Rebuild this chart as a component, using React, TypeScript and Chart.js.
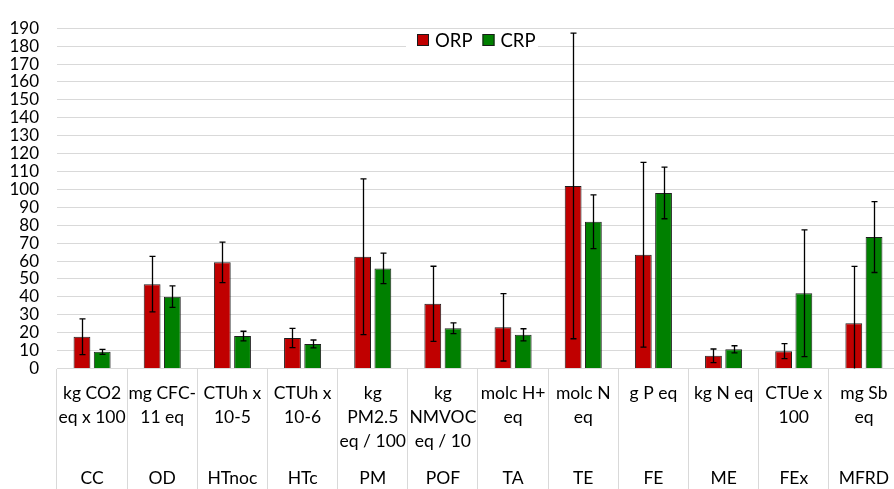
import React, { useEffect, useRef } from "react";
import { Chart, registerables } from "chart.js";

Chart.register(...registerables);

const categories = ["CC", "OD", "HTnoc", "HTc", "PM", "POF", "TA", "TE", "FE", "ME", "FEx", "MFRD"];
const unitLabels: string[][] = [
  ["kg CO2", "eq x 100"],
  ["mg CFC-", "11 eq"],
  ["CTUh x", "10-5"],
  ["CTUh x", "10-6"],
  ["kg", "PM2.5", "eq / 100"],
  ["kg", "NMVOC", "eq / 10"],
  ["molc H+", "eq"],
  ["molc N", "eq"],
  ["g P eq"],
  ["kg N eq"],
  ["CTUe x", "100"],
  ["mg Sb", "eq"],
];
const orpValues = [17.7, 47.1, 59.3, 17.0, 62.4, 36.1, 23.0, 101.9, 63.5, 7.1, 9.7, 25.2];
const orpErrors = [10.0, 15.5, 11.3, 5.4, 43.5, 21.0, 18.8, 85.3, 51.6, 3.8, 4.2, 31.8];
const crpValues = [9.3, 40.1, 18.1, 13.7, 55.9, 22.5, 18.8, 81.9, 98.0, 10.7, 42.0, 73.4];
const crpErrors = [1.4, 6.0, 2.7, 2.2, 8.5, 3.0, 3.4, 15.0, 14.4, 2.0, 35.4, 19.8];
const seriesNames = ["ORP", "CRP"];
const seriesColors = ["#C00000", "#008000"];

const FONT = "Lato, 'Open Sans', sans-serif";
const TEXT = "#000000";

const errorBarPlugin = {
  id: "errorBars",
  afterDatasetsDraw(chart: any) {
    const ctx = chart.ctx;
    const y = chart.scales.y;
    const area = chart.chartArea;
    const errs = [orpErrors, crpErrors];
    const vals = [orpValues, crpValues];
    ctx.save();
    ctx.strokeStyle = "#000000";
    ctx.lineWidth = 1.3;
    chart.data.datasets.forEach((_: any, di: number) => {
      const meta = chart.getDatasetMeta(di);
      meta.data.forEach((bar: any, i: number) => {
        const v = vals[di][i];
        const e = errs[di][i];
        const top = y.getPixelForValue(v + e);
        const bot = Math.min(y.getPixelForValue(v - e), area.bottom);
        const x = Math.round(bar.x) + 0.5;
        ctx.beginPath();
        ctx.moveTo(x, top);
        ctx.lineTo(x, bot);
        ctx.moveTo(x - 3, top);
        ctx.lineTo(x + 3, top);
        if (bot < area.bottom) {
          ctx.moveTo(x - 3, bot);
          ctx.lineTo(x + 3, bot);
        }
        ctx.stroke();
      });
    });
    ctx.restore();
  },
  afterDraw(chart: any) {
    const ctx = chart.ctx;
    const x = chart.scales.x;
    ctx.save();
    ctx.fillStyle = TEXT;
    ctx.textAlign = "center";
    ctx.textBaseline = "middle";
    ctx.font = `17.5px ${FONT}`;
    const lineYs = [393, 417, 441];
    categories.forEach((cat, i) => {
      const cx = x.getPixelForValue(i);
      unitLabels[i].forEach((line, li) => {
        ctx.fillText(line, cx, lineYs[li]);
      });
      ctx.fillText(cat, cx, 478);
    });

    // legend
    const lx = 417;
    const ly = 40;
    ctx.fillStyle = "#ffffff";
    ctx.fillRect(406, 30, 132, 20);
    ctx.textAlign = "left";
    ctx.font = `18.5px ${FONT}`;
    let cur = lx;
    seriesNames.forEach((name, i) => {
      ctx.fillStyle = seriesColors[i];
      ctx.fillRect(cur, ly - 6, 12, 12);
      ctx.strokeStyle = "#1a1a1a";
      ctx.lineWidth = 1;
      ctx.strokeRect(cur + 0.5, ly - 5.5, 11, 11);
      ctx.fillStyle = TEXT;
      ctx.fillText(name, cur + 18, ly + 1);
      cur += 18 + ctx.measureText(name).width + 10;
    });
    ctx.restore();
  },
};

export default function App() {
  const ref = useRef<HTMLCanvasElement>(null);
  useEffect(() => {
    if (!ref.current) return;
    const chart = new Chart(ref.current, {
      type: "bar",
      data: {
        labels: categories,
        datasets: seriesNames.map((name, i) => ({
          label: name,
          data: i === 0 ? orpValues : crpValues,
          backgroundColor: seriesColors[i],
          borderColor: "#1f1f1f",
          borderWidth: 1,
          barPercentage: 0.83,
          categoryPercentage: 0.577,
        })),
      },
      options: {
        responsive: false,
        animation: false,
        devicePixelRatio: 1,
        layout: { padding: { top: 20, right: 1, left: 0, bottom: 0 } },
        plugins: { legend: { display: false }, tooltip: { enabled: false } },
        scales: {
          x: {
            grid: {
              offset: true,
              drawOnChartArea: false,
              drawTicks: true,
              tickLength: 125,
              color: "#d9d9d9",
              lineWidth: 1,
            },
            border: { display: true, color: "#d9d9d9", width: 1 },
            ticks: { display: false },
            afterFit: (s: any) => {
              s.height = 120.5;
            },
          },
          y: {
            min: 0,
            max: 190,
            ticks: {
              stepSize: 10,
              autoSkip: false,
              color: TEXT,
              font: { family: FONT, size: 17 },
              padding: 18,
            },
            grid: { color: "#d9d9d9", lineWidth: 1, drawTicks: false },
            border: { display: false },
            afterFit: (s: any) => {
              s.width = 57;
            },
          },
        },
      },
      plugins: [errorBarPlugin],
    });
    return () => chart.destroy();
  }, []);
  return (
    <div
      style={{
        position: "fixed",
        left: 0,
        top: 0,
        width: 894,
        height: 489,
        overflow: "hidden",
        background: "#ffffff",
      }}
    >
      <canvas ref={ref} width={900} height={489} style={{ display: "block" }} />
    </div>
  );
}
